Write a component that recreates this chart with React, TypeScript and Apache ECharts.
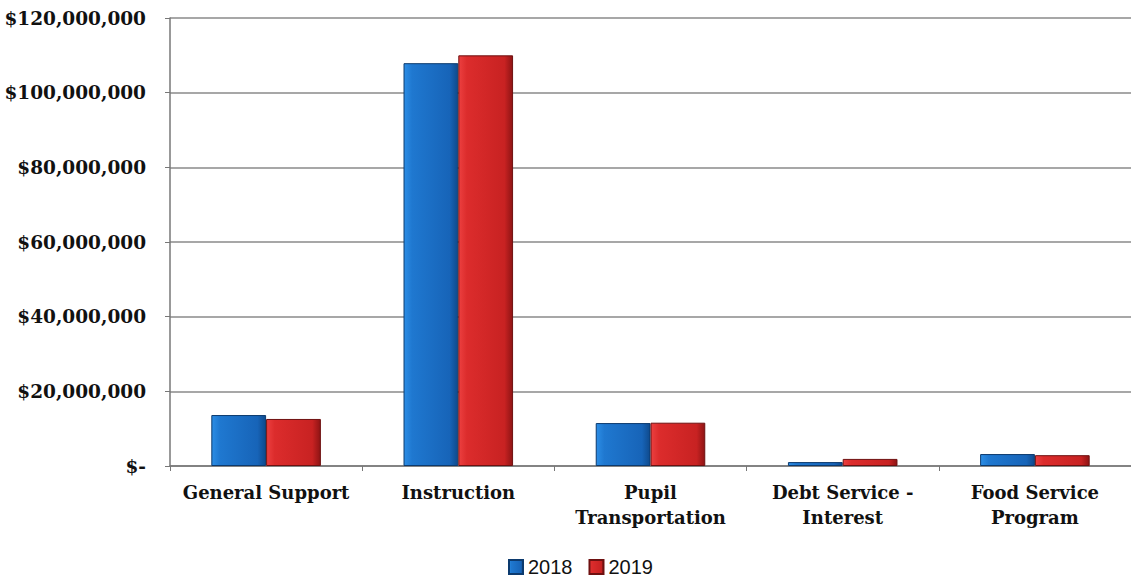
import React, { useEffect, useRef } from "react";
import * as echarts from "echarts";

const categories = [
  "General Support",
  "Instruction",
  "Pupil\nTransportation",
  "Debt Service -\nInterest",
  "Food Service\nProgram",
];
const seriesNames = ["2018", "2019"];
const values2018 = [13650000, 107900000, 11500000, 1050000, 3200000];
const values2019 = [12600000, 110000000, 11600000, 1900000, 2900000];
const yTicks = [0, 20000000, 40000000, 60000000, 80000000, 100000000, 120000000];

const fmt = (v: number) =>
  v === 0 ? "$-" : "$" + v.toLocaleString("en-US");

export default function App() {
  const ref = useRef<HTMLDivElement>(null);
  useEffect(() => {
    if (!ref.current) return;
    const chart = echarts.init(ref.current, undefined, { renderer: "svg" });
    const blue = new echarts.graphic.LinearGradient(0, 0, 1, 0, [
      { offset: 0, color: "#2c8ee6" },
      { offset: 0.15, color: "#1f78d0" },
      { offset: 0.85, color: "#1764b8" },
      { offset: 1, color: "#0f4a8c" },
    ]);
    const red = new echarts.graphic.LinearGradient(0, 0, 1, 0, [
      { offset: 0, color: "#ec4040" },
      { offset: 0.15, color: "#dc2c2c" },
      { offset: 0.85, color: "#c82222" },
      { offset: 1, color: "#8e1414" },
    ]);
    chart.setOption({
      animation: false,
      backgroundColor: "#ffffff",
      grid: { left: 170, top: 18, width: 967, bottom: 113, containLabel: false },
      legend: {
        data: seriesNames,
        left: 508,
        top: 557,
        padding: 0,
        itemWidth: 14,
        itemHeight: 14,
        itemGap: 16,
        icon: "rect",
        textStyle: { fontFamily: "Liberation Sans", fontSize: 20, color: "#111", lineHeight: 20 },
      },
      xAxis: {
        type: "category",
        data: categories,
        axisLine: { lineStyle: { color: "#777", width: 1.5 } },
        axisTick: { show: true, length: 5, lineStyle: { color: "#777" } },
        axisLabel: {
          interval: 0,
          fontFamily: "DejaVu Serif",
          fontWeight: "bold",
          fontSize: 18,
          color: "#111",
          lineHeight: 25,
          margin: 14,
        },
      },
      yAxis: {
        type: "value",
        min: 0,
        max: yTicks[yTicks.length - 1],
        interval: yTicks[1] - yTicks[0],
        axisLine: { show: true, lineStyle: { color: "#777", width: 1.5 } },
        axisTick: { show: true, length: 5, lineStyle: { color: "#777" } },
        splitLine: { lineStyle: { color: "#8a8a8a", width: 1.5 } },
        axisLabel: {
          formatter: fmt,
          fontFamily: "DejaVu Serif",
          fontWeight: "bold",
          fontSize: 18.5,
          color: "#111",
          margin: 24,
        },
      },
      series: [
        {
          name: seriesNames[0],
          type: "bar",
          data: values2018,
          barGap: "0%",
          barCategoryGap: "43%",
          itemStyle: { color: blue, borderColor: "#0c3a6e", borderWidth: 1 },
        },
        {
          name: seriesNames[1],
          type: "bar",
          data: values2019,
          itemStyle: { color: red, borderColor: "#6e1010", borderWidth: 1 },
        },
      ],
    });
    return () => chart.dispose();
  }, []);
  return (
    <div
      ref={ref}
      style={{ position: "fixed", left: 0, top: 0, width: 1131, height: 579 }}
    />
  );
}
